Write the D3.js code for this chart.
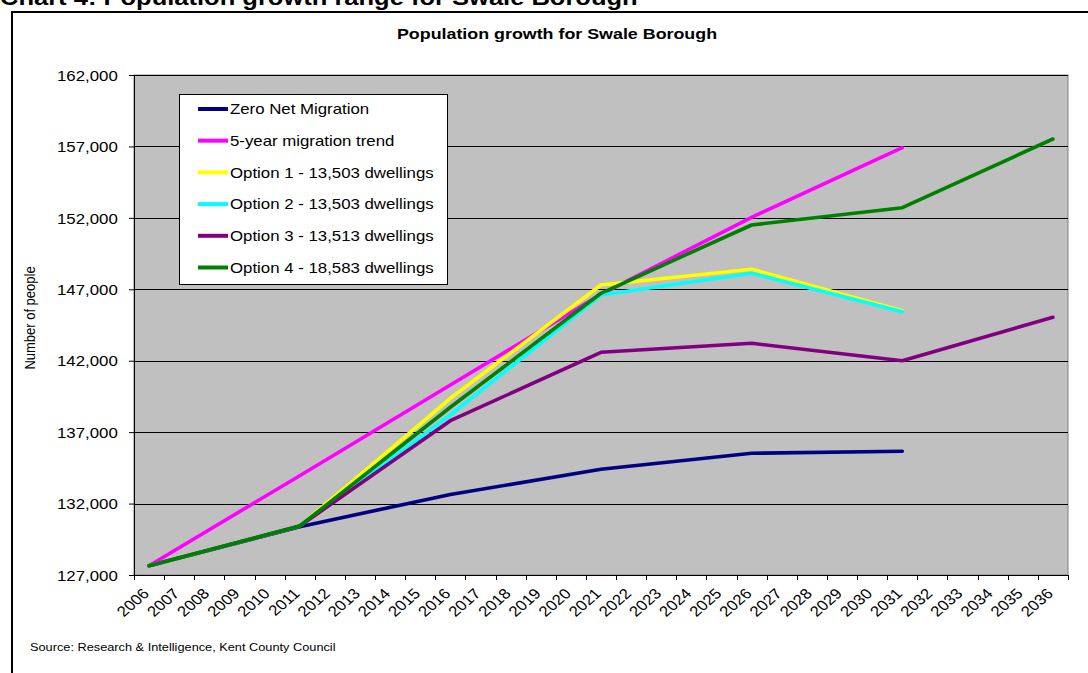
<!DOCTYPE html>
<html>
<head>
<meta charset="utf-8">
<script src="https://cdn.jsdelivr.net/npm/d3@7"></script>
<style>
  body { margin: 0; background: #fff; }
  text { font-family: "Liberation Sans", Arial, sans-serif; fill: #000; }
</style>
</head>
<body>
<svg id="chart" width="1088" height="673"></svg>
<script>
// Categories on the horizontal axis
const years = ["2006","2007","2008","2009","2010","2011","2012","2013","2014","2015",
  "2016","2017","2018","2019","2020","2021","2022","2023","2024","2025","2026","2027",
  "2028","2029","2030","2031","2032","2033","2034","2035","2036"];

// Years at which each projection has a value
const pointYears = ["2006","2011","2016","2021","2026","2031","2036"];

// Projected population (people), null where a projection stops
const zeroNetMigration = [127650, 130380, 132640, 134400, 135520, 135660, null];
const migrationTrend5yr = [127650, 133950, 140300, 146650, 152040, 156910, null];
const option1 = [127650, 130430, 139370, 147300, 148400, 145500, null];
const option2 = [127650, 130430, 138200, 146600, 148120, 145430, null];
const option3 = [127650, 130430, 137800, 142590, 143220, 142000, 145040];
const option4 = [127650, 130430, 138740, 146720, 151500, 152710, 157520];

const seriesNames = ["Zero Net Migration", "5-year migration trend",
  "Option 1 - 13,503 dwellings", "Option 2 - 13,503 dwellings",
  "Option 3 - 13,513 dwellings", "Option 4 - 18,583 dwellings"];
const seriesValues = [zeroNetMigration, migrationTrend5yr, option1, option2, option3, option4];
const seriesColors = ["#000080", "#ff00ff", "#ffff00", "#00ffff", "#800080", "#008000"];

// Value axis tick labels
const yTickValues = [127000, 132000, 137000, 142000, 147000, 152000, 157000, 162000];

// Text in this chart is drawn slightly wide
const SX = 1.16;

const svg = d3.select("#chart");
const plot = { left: 134, right: 1068, top: 75, bottom: 575 };

const x = d3.scaleBand().domain(years).range([plot.left, plot.right]);
const xc = d => x(d) + x.bandwidth() / 2;
const y = d3.scaleLinear().domain([127000, 162000]).range([plot.bottom, plot.top]);

// Page heading (partly above the page edge)
svg.append("text")
  .attr("transform", `translate(0,5) scale(${SX},1)`)
  .style("font-weight", "bold").style("font-size", "22px")
  .text("Chart 4: Population growth range for Swale Borough");

// Chart frame
svg.append("rect")
  .attr("x", 12).attr("y", 12).attr("width", 1100).attr("height", 700)
  .attr("fill", "none").attr("stroke", "#000").attr("stroke-width", 2);

// Chart title
svg.append("text")
  .attr("transform", `translate(557,39) scale(${SX},1)`)
  .attr("text-anchor", "middle")
  .style("font-weight", "bold").style("font-size", "15.4px")
  .text("Population growth for Swale Borough");

// Plot area background
svg.append("rect")
  .attr("x", plot.left).attr("y", plot.top)
  .attr("width", plot.right - plot.left).attr("height", plot.bottom - plot.top)
  .attr("fill", "#c0c0c0").attr("stroke", "#808080").attr("stroke-width", 1);

// Horizontal gridlines
svg.append("g").selectAll("line")
  .data(yTickValues.filter(v => v !== 127000))
  .join("line")
  .attr("x1", plot.left).attr("x2", plot.right)
  .attr("y1", d => Math.round(y(d)) + 0.5).attr("y2", d => Math.round(y(d)) + 0.5)
  .attr("stroke", "#000").attr("stroke-width", 1);

// Value axis
const yAxis = svg.append("g")
  .attr("transform", `translate(${plot.left},0)`)
  .call(d3.axisLeft(y).tickValues(yTickValues).tickSize(5).tickFormat(d3.format(",")));
yAxis.select(".domain").attr("stroke", "#000");
yAxis.selectAll(".tick line").attr("stroke", "#000");
yAxis.selectAll(".tick text")
  .attr("x", -14).attr("dy", "0.36em")
  .attr("transform", `scale(${SX},1)`)
  .style("font-size", "14.5px").style("font-family", "Liberation Sans, Arial, sans-serif");

// Category axis: labels at category centres
const xAxis = svg.append("g")
  .attr("transform", `translate(0,${plot.bottom})`)
  .call(d3.axisBottom(x).tickSize(0).tickSizeOuter(0));
xAxis.select(".domain").remove();
xAxis.selectAll(".tick text")
  .attr("x", 0).attr("y", 0).attr("dy", "0.35em")
  .attr("text-anchor", "end")
  .attr("transform", `translate(-3,16) scale(${SX},1) rotate(-45)`)
  .style("font-size", "14.5px").style("font-family", "Liberation Sans, Arial, sans-serif");
// Category axis line and tick marks between categories
svg.append("line")
  .attr("x1", plot.left).attr("x2", plot.right)
  .attr("y1", plot.bottom + 0.5).attr("y2", plot.bottom + 0.5)
  .attr("stroke", "#000");
svg.append("g").selectAll("line")
  .data(years.map(d => x(d)).concat([x.range()[1]]))
  .join("line")
  .attr("x1", d => Math.round(d) + 0.5).attr("x2", d => Math.round(d) + 0.5)
  .attr("y1", plot.bottom).attr("y2", plot.bottom + 5)
  .attr("stroke", "#000");

// Axis title
svg.append("text")
  .attr("transform", `translate(35,318) scale(${SX},1) rotate(-90)`)
  .attr("text-anchor", "middle")
  .style("font-size", "13px")
  .text("Number of people");

// Projection lines
const line = d3.line()
  .defined(d => d.v !== null)
  .x(d => xc(d.year))
  .y(d => y(d.v));

seriesValues.forEach((vals, i) => {
  const pts = pointYears.map((yr, j) => ({ year: yr, v: vals[j] }));
  svg.append("path")
    .datum(pts)
    .attr("d", line)
    .attr("fill", "none")
    .attr("stroke", seriesColors[i])
    .attr("stroke-width", 3.6)
    .attr("stroke-linejoin", "round")
    .attr("stroke-linecap", "round");
});

// Legend
const legend = svg.append("g");
legend.append("rect")
  .attr("x", 179.5).attr("y", 94.5).attr("width", 268).attr("height", 190)
  .attr("fill", "#fff").attr("stroke", "#000");
seriesNames.forEach((name, i) => {
  const ry = 109 + i * 31.7;
  legend.append("line")
    .attr("x1", 198).attr("x2", 228).attr("y1", ry).attr("y2", ry)
    .attr("stroke", seriesColors[i]).attr("stroke-width", 4);
  legend.append("text")
    .attr("transform", `translate(230,${ry}) scale(${SX},1)`)
    .attr("dy", "0.36em")
    .style("font-size", "14.5px")
    .text(name);
});

// Source note
svg.append("text")
  .attr("transform", `translate(30,651) scale(${SX},1)`)
  .style("font-size", "11px")
  .text("Source: Research & Intelligence, Kent County Council");
</script>
</body>
</html>
